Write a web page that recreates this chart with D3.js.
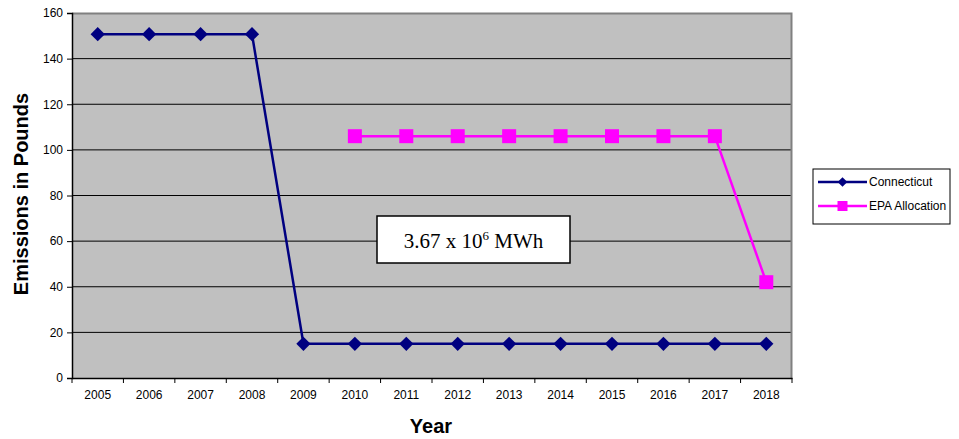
<!DOCTYPE html>
<html>
<head>
<meta charset="utf-8">
<script src="https://cdn.jsdelivr.net/npm/d3@7"></script>
<style>
  body { margin: 0; background: #fff; }
  svg { display: block; font-family: Arial, "Liberation Sans", sans-serif; }
</style>
</head>
<body>
<div id="chart"></div>
<script>
// data
var years = ["2005", "2006", "2007", "2008", "2009", "2010", "2011",
             "2012", "2013", "2014", "2015", "2016", "2017", "2018"];
var connecticut = [150.7, 150.7, 150.7, 150.7, 15, 15, 15, 15, 15, 15, 15, 15, 15, 15];
var epaYears = ["2010", "2011", "2012", "2013", "2014", "2015", "2016", "2017", "2018"];
var epaAllocation = [106, 106, 106, 106, 106, 106, 106, 106, 42];
var yTicks = [0, 20, 40, 60, 80, 100, 120, 140, 160];

var margin = { top: 13, right: 167, bottom: 61, left: 72 },
    W = 959, H = 439,
    width = W - margin.left - margin.right,
    height = H - margin.top - margin.bottom;

var svg = d3.select("#chart").append("svg")
    .attr("width", W)
    .attr("height", H);

var g = svg.append("g")
    .attr("transform", "translate(" + margin.left + "," + margin.top + ")");

var x = d3.scaleBand().domain(years).range([0, width]);
var y = d3.scaleLinear().domain([0, 160]).range([height, 0]);

// plot background
g.append("rect")
    .attr("width", width)
    .attr("height", height)
    .attr("fill", "#c0c0c0");

// gridlines
g.selectAll(".grid")
    .data(yTicks.filter(function (d) { return d > 0 && d < 160; }))
    .enter().append("line")
    .attr("x1", 0).attr("x2", width)
    .attr("y1", function (d) { return y(d); })
    .attr("y2", function (d) { return y(d); })
    .attr("stroke", "#000")
    .attr("stroke-width", 1);

// top and right border
g.append("path")
    .attr("d", "M0,0.5H" + (width - 0.5) + "V" + height)
    .attr("fill", "none")
    .attr("stroke", "#808080")
    .attr("stroke-width", 2);

// axes
var yAxis = g.append("g")
    .call(d3.axisLeft(y).tickValues(yTicks).tickSize(5).tickPadding(4));
var xAxis = g.append("g")
    .attr("transform", "translate(0," + height + ")")
    .call(d3.axisBottom(x).tickSize(0).tickPadding(12));

[yAxis, xAxis].forEach(function (a) {
    a.select(".domain").attr("stroke", "#000").attr("stroke-width", 1.5);
    a.selectAll("text").style("font-size", "12px").attr("fill", "#000");
});

// x ticks at category boundaries
var bounds = years.map(function (d) { return x(d); }).concat([width]);
xAxis.selectAll(".bound")
    .data(bounds)
    .enter().append("line")
    .attr("x1", function (d) { return d; })
    .attr("x2", function (d) { return d; })
    .attr("y1", 0).attr("y2", 5)
    .attr("stroke", "#000");

var cx = function (yr) { return x(yr) + x.bandwidth() / 2; };

// Connecticut line
var ctData = years.map(function (d, i) { return { year: d, v: connecticut[i] }; });
var line = d3.line()
    .x(function (d) { return cx(d.year); })
    .y(function (d) { return y(d.v); });

g.append("path")
    .datum(ctData)
    .attr("d", line)
    .attr("fill", "none")
    .attr("stroke", "#000080")
    .attr("stroke-width", 2.5);

var diamond = d3.symbol().type(d3.symbolDiamond2).size(130);
g.selectAll(".ct")
    .data(ctData)
    .enter().append("path")
    .attr("d", diamond)
    .attr("transform", function (d) { return "translate(" + cx(d.year) + "," + y(d.v) + ")"; })
    .attr("fill", "#000080");

// EPA Allocation line
var epaData = epaYears.map(function (d, i) { return { year: d, v: epaAllocation[i] }; });
g.append("path")
    .datum(epaData)
    .attr("d", line)
    .attr("fill", "none")
    .attr("stroke", "#ff00ff")
    .attr("stroke-width", 2.5);

g.selectAll(".epa")
    .data(epaData)
    .enter().append("rect")
    .attr("x", function (d) { return cx(d.year) - 7; })
    .attr("y", function (d) { return y(d.v) - 7; })
    .attr("width", 14)
    .attr("height", 14)
    .attr("fill", "#ff00ff");

// annotation box
var ann = svg.append("g").attr("transform", "translate(377,216)");
ann.append("rect")
    .attr("width", 193).attr("height", 47)
    .attr("fill", "#fff")
    .attr("stroke", "#000")
    .attr("stroke-width", 1.5);
var annText = ann.append("text")
    .attr("x", 96.5).attr("y", 32)
    .attr("text-anchor", "middle")
    .style("font-family", "'Liberation Serif', 'Times New Roman', serif")
    .style("font-size", "21px");
annText.append("tspan").text("3.67 x 10");
annText.append("tspan").attr("dy", -8).style("font-size", "13px").text("6");
annText.append("tspan").attr("dy", 8).text(" MWh");

// axis titles
svg.append("text")
    .attr("transform", "translate(28,194) rotate(-90)")
    .attr("text-anchor", "middle")
    .style("font-size", "20px")
    .style("font-weight", "bold")
    .text("Emissions in Pounds");

svg.append("text")
    .attr("x", 431).attr("y", 433)
    .attr("text-anchor", "middle")
    .style("font-size", "20px")
    .style("font-weight", "bold")
    .text("Year");

// legend
var leg = svg.append("g").attr("transform", "translate(813,169)");
leg.append("rect")
    .attr("width", 137).attr("height", 55)
    .attr("fill", "#fff")
    .attr("stroke", "#000");

var legItems = [
    { name: "Connecticut", color: "#000080", shape: "diamond" },
    { name: "EPA Allocation", color: "#ff00ff", shape: "square" }
];
legItems.forEach(function (d, i) {
    var ly = 13 + i * 24;
    leg.append("line")
        .attr("x1", 5).attr("x2", 54)
        .attr("y1", ly).attr("y2", ly)
        .attr("stroke", d.color)
        .attr("stroke-width", 2.5);
    if (d.shape === "diamond") {
        leg.append("path")
            .attr("d", d3.symbol().type(d3.symbolDiamond2).size(60))
            .attr("transform", "translate(29.5," + ly + ")")
            .attr("fill", d.color);
    } else {
        leg.append("rect")
            .attr("x", 24.5).attr("y", ly - 5)
            .attr("width", 10).attr("height", 10)
            .attr("fill", d.color);
    }
    leg.append("text")
        .attr("x", 56).attr("y", ly + 4)
        .style("font-size", "12px")
        .text(d.name);
});
</script>
</body>
</html>
